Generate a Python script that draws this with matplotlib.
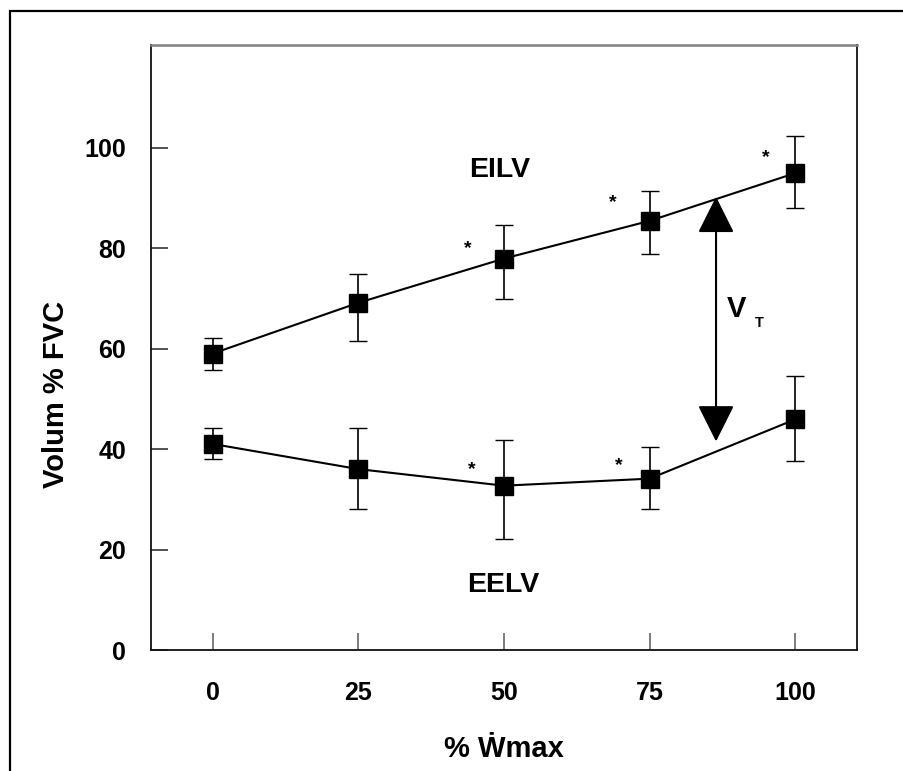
import matplotlib
matplotlib.use("Agg")
import matplotlib.pyplot as plt
from matplotlib.patches import Rectangle, FancyArrowPatch

plt.rcParams['font.family'] = ['Liberation Sans', 'DejaVu Sans']
plt.rcParams['font.weight'] = 'bold'

# data
load = [0, 25, 50, 75, 100]                      # % Wmax
eilv = [59.0, 69.1, 77.9, 85.4, 94.9]
eilv_hi = [62.0, 74.8, 84.6, 91.4, 102.3]
eilv_lo = [55.7, 61.4, 69.8, 78.9, 87.9]
eelv = [41.0, 36.0, 32.7, 34.1, 45.9]
eelv_hi = [44.2, 44.2, 41.7, 40.4, 54.5]
eelv_lo = [38.0, 28.1, 22.1, 28.1, 37.6]

# significance marks
star_x = [43.7, 68.6, 95.0, 44.5, 69.7]
star_y = [81.6, 90.7, 99.7, 37.7, 38.5]

# tidal volume arrow
vt_x = 86.4
vt_top = 90.2
vt_bottom = 41.5

fig = plt.figure(figsize=(9.04, 7.71), dpi=100)
ax = fig.add_axes([151 / 904, 121 / 771, 706 / 904, 605 / 771])

def err(mean, lo, hi):
    return [[m - l for m, l in zip(mean, lo)], [h - m for m, h in zip(mean, hi)]]

for mean, lo, hi in [(eilv, eilv_lo, eilv_hi), (eelv, eelv_lo, eelv_hi)]:
    ax.errorbar(load, mean, yerr=err(mean, lo, hi), color='black', lw=1.5,
                marker='s', ms=12.5, mfc='black', mec='black',
                ecolor='black', elinewidth=1.2, capsize=6.5, capthick=1.0)

for x, y in zip(star_x, star_y):
    ax.text(x, y - 2.6, '*', fontsize=14, fontweight='bold', ha='center', va='baseline')

ax.text(49.2, 94.1, 'EILV', fontsize=20.5, fontweight='bold', ha='center', va='baseline')
ax.text(49.9, 11.6, 'EELV', fontsize=20.5, fontweight='bold', ha='center', va='baseline')

arrow = FancyArrowPatch((vt_x, vt_bottom), (vt_x, vt_top),
                        arrowstyle='<|-|>,head_length=23,head_width=11.5',
                        mutation_scale=1, shrinkA=0, shrinkB=0,
                        color='black', lw=1.5)
ax.add_patch(arrow)
ax.text(88.3, 66.3, 'V', fontsize=21, fontweight='bold', ha='left', va='baseline')
ax.text(93.1, 64.3, 'T', fontsize=10.5, fontweight='bold', ha='left', va='baseline')

ax.set_xlim(-10.6, 110.6)
ax.set_ylim(0, 120.4)
ax.set_xticks(load)
ax.set_yticks([0, 20, 40, 60, 80, 100])
ax.tick_params(axis='both', direction='in', length=12, width=1.2, labelsize=18)
ax.tick_params(axis='x', color='#666666', pad=22)
ax.tick_params(axis='y', color='#333333', pad=18)
for lab in ax.get_xticklabels() + ax.get_yticklabels():
    lab.set_fontweight('bold')

for side in ['left', 'bottom', 'right']:
    ax.spines[side].set_color('#111111')
    ax.spines[side].set_linewidth(1.3)
ax.spines['top'].set_color('#808080')
ax.spines['top'].set_linewidth(1.8)

ax.set_xlabel('% \u1E86max', fontsize=21, fontweight='bold', labelpad=22)
ax.set_ylabel('Volum % FVC', fontsize=21, fontweight='bold')
ax.yaxis.set_label_coords(-0.115, 0.423)

# outer frame running off the right and bottom edges
fig.patches.append(Rectangle((10 / 904, -0.1), 1.2, 1.1 - 11 / 771,
                             transform=fig.transFigure, fill=False,
                             edgecolor='black', lw=1.6))

fig.savefig('out.png', dpi=100, facecolor='white')
